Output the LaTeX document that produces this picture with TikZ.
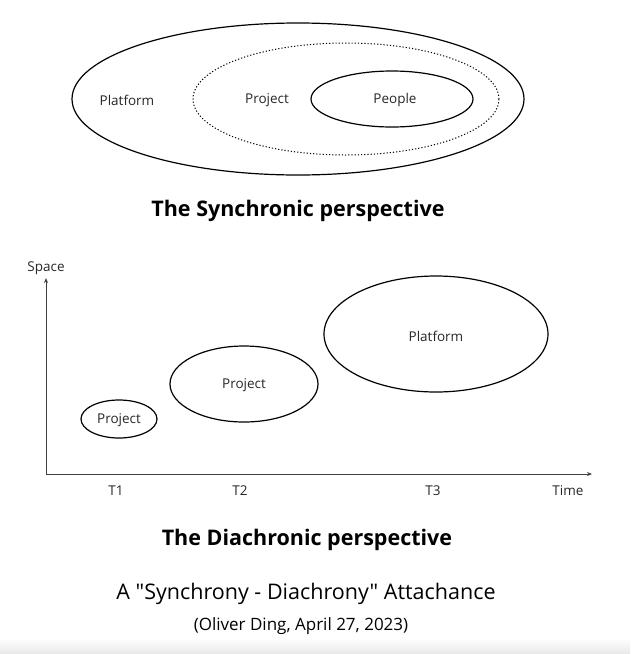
\documentclass[tikz,border=0pt]{standalone}
\usepackage{fontspec}
\setmainfont{Open Sans}
\newfontfamily\plainq{Open Sans}[Ligatures=TeXOff]
\usetikzlibrary{shapes.geometric,arrows.meta}
\begin{document}
\begin{tikzpicture}[x=1pt,y=-1pt,
  ell/.style={draw=black,line width=1.2pt,ellipse,inner sep=0pt},
  lbl/.style={font=\fontsize{13.5}{15}\selectfont,text=black!85},
  ttl/.style={font=\fontsize{21.5}{25}\selectfont\bfseries},
  axis/.style={draw=black!75,line width=0.9pt,-{Stealth[length=5pt,width=4pt]}}]
\useasboundingbox (0,0) rectangle (630,654);
\shade[top color=white,bottom color=black!9] (0,638) rectangle (630,654);
% Synchronic
\node[ell,minimum width=452pt,minimum height=152pt] (outer) at (298,99) {};
\node[ell,dotted,line width=1pt,minimum width=306pt,minimum height=112pt] (proj) at (346,99) {};
\node[ell,minimum width=162pt,minimum height=56pt] (people) at (392,99) {};
\node[lbl] (lplat) at (127,100) {Platform};
\node[lbl] (lproj) at (267,100) {Project};
\node[lbl] (lpeople) at (395,100) {People};
\node[ttl] (t1) at (298,211) {The Synchronic perspective};
% Diachronic
\coordinate (o) at (46,474);
\coordinate (ytip) at (46,278);
\coordinate (xtip) at (592,474);
\draw[axis] (o) -- (ytip);
\draw[axis] (o) -- (xtip);
\node[lbl] (space) at (46,268) {Space};
\node[lbl] (time) at (568,491) {Time};
\node[lbl] (T1) at (116,491) {T1};
\node[lbl] (T2) at (240,491) {T2};
\node[lbl] (T3) at (433,491) {T3};
\node[ell,minimum width=76pt,minimum height=38pt] (e1) at (119,419) {};
\node[lbl] (l1) at (119,420) {Project};
\node[ell,minimum width=148pt,minimum height=76pt] (e2) at (244,384) {};
\node[lbl] (l2) at (244,385) {Project};
\node[ell,minimum width=224pt,minimum height=116pt] (e3) at (436,334) {};
\node[lbl] (lp3) at (436,336) {Platform};
\node[ttl] (t2) at (307,540) {The Diachronic perspective};
\node[font=\fontsize{21.5}{25}\selectfont\plainq] (t3) at (306,594) {A "Synchrony - Diachrony" Attachance};
\node[font=\fontsize{17}{20}\selectfont] (t4) at (301,626) {(Oliver Ding, April 27, 2023)};
\end{tikzpicture}
\end{document}
